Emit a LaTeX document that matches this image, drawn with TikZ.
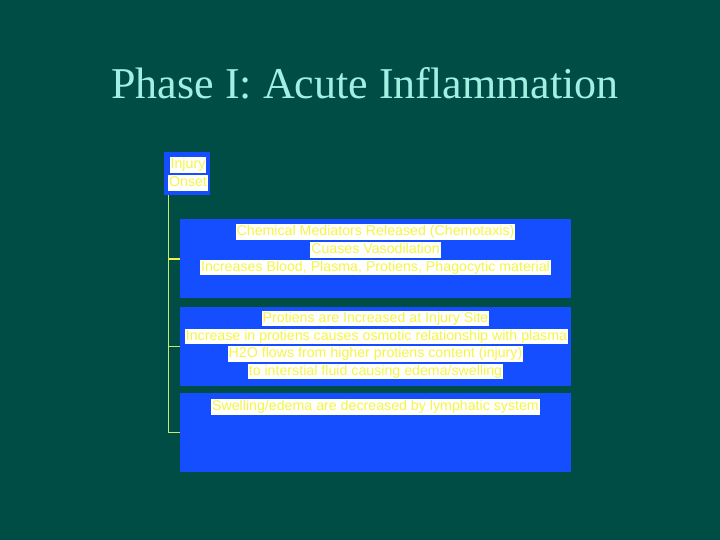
\documentclass[tikz,border=0pt]{standalone}
\usepackage{fontspec}
\setmainfont{Liberation Serif}
\setsansfont{Liberation Sans}
\definecolor{bg}{RGB}{0,77,70}
\definecolor{titlec}{RGB}{160,240,228}
\definecolor{boxblue}{RGB}{20,78,255}
\definecolor{txtyel}{RGB}{245,245,70}
\definecolor{linec}{RGB}{200,235,110}
\tikzset{
  panel/.style={draw=none, fill=boxblue, minimum width=391pt, minimum height=79pt, inner sep=0pt},
  ln/.style={fill=white, text=txtyel, font=\sffamily\fontsize{14.2}{14.2}\selectfont, inner xsep=1pt, inner ysep=1pt, text height=10.5pt, text depth=3pt},
  conn/.style={draw=linec, line width=1pt},
}
\begin{document}
\begin{tikzpicture}[x=1pt,y=-1pt]
\fill[bg] (0,0) rectangle (720,540);
\useasboundingbox (0,0) rectangle (720,540);
\node[text=titlec, font=\fontsize{44}{44}\selectfont] (title) at (365,83) {Phase I: Acute Inflammation};
% injury box
\node[fill=boxblue, minimum width=46pt, minimum height=43pt, inner sep=0pt] (inj) at (187,173.5) {};
\node[ln] (inj1) at (188,165) {Injury};
\node[ln] (inj2) at (188,183) {Onset};
% panels
\node[panel] (b2) at (375.5,258.5) {};
\node[panel] (b3) at (375.5,346) {};
\node[panel] (b4) at (375.5,432) {};
\node[ln] (l21) at (375.5,232) {Chemical Mediators Released (Chemotaxis)};
\node[ln] (l22) at (375.5,250) {Cuases Vasodilation};
\node[ln] (l23) at (375.5,267.5) {Increases Blood, Plasma, Protiens, Phagocytic material};
\node[ln] (l31) at (375.5,318.5) {Protiens are Increased at Injury Site};
\node[ln] (l32) at (376.5,336.5) {Increase in protiens causes osmotic relationship with plasma};
\node[ln] (l33) at (375.5,354) {H2O flows from higher protiens content (injury)};
\node[ln] (l34) at (375.5,371.5) {to interstial fluid causing edema/swelling};
\node[ln] (l41) at (375.5,407) {Swelling/edema are decreased by lymphatic system};
% connectors
\coordinate (t0) at ([xshift=5pt]inj.south west);
\draw[conn] (t0) |- (b4.west);
\draw[conn, line width=2pt, draw=txtyel!90!linec] (t0 |- b2.west) -- (b2.west);
\draw[conn] (t0 |- b3.west) -- (b3.west);
\end{tikzpicture}
\end{document}
